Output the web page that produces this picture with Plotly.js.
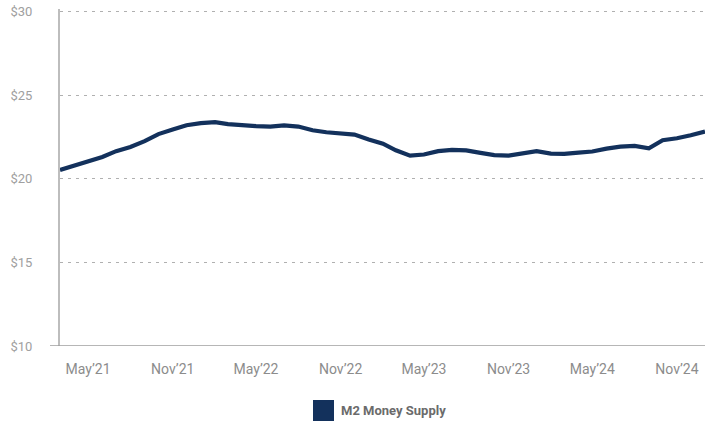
<!DOCTYPE html>
<html>
<head>
<meta charset="utf-8">
<script src="https://cdn.plot.ly/plotly-3.0.1.min.js"></script>
<style>
  html, body { margin: 0; padding: 0; background: #fff; }
  #chart { width: 724px; height: 423px; }
</style>
</head>
<body>
<div id="chart"></div>
<script>
// Monthly observations, Mar 2021 – Jan 2025
const months = [
  "2021-03-01","2021-04-01","2021-05-01","2021-06-01","2021-07-01","2021-08-01",
  "2021-09-01","2021-10-01","2021-11-01","2021-12-01","2022-01-01","2022-02-01",
  "2022-03-01","2022-04-01","2022-05-01","2022-06-01","2022-07-01","2022-08-01",
  "2022-09-01","2022-10-01","2022-11-01","2022-12-01","2023-01-01","2023-02-01",
  "2023-03-01","2023-04-01","2023-05-01","2023-06-01","2023-07-01","2023-08-01",
  "2023-09-01","2023-10-01","2023-11-01","2023-12-01","2024-01-01","2024-02-01",
  "2024-03-01","2024-04-01","2024-05-01","2024-06-01","2024-07-01","2024-08-01",
  "2024-09-01","2024-10-01","2024-11-01","2024-12-01","2025-01-01"
];
const m2Supply = [
  20.52, 20.79, 21.00, 21.30, 21.65, 21.90,
  22.25, 22.67, 22.94, 23.20, 23.33, 23.39,
  23.27, 23.19, 23.15, 23.12, 23.19, 23.12,
  22.90, 22.78, 22.73, 22.64, 22.35, 22.10,
  21.70, 21.38, 21.45, 21.65, 21.73, 21.70,
  21.55, 21.41, 21.38, 21.50, 21.65, 21.50,
  21.49, 21.56, 21.63, 21.80, 21.92, 21.97,
  21.82, 22.30, 22.42, 22.60, 22.82
];
const tickDates = ["2021-05-01","2021-11-01","2022-05-01","2022-11-01","2023-05-01","2023-11-01","2024-05-01","2024-11-01"];
const tickLabels = ["May\u201921","Nov\u201921","May\u201922","Nov\u201922","May\u201923","Nov\u201923","May\u201924","Nov\u201924"];
const yTicks = [10, 15, 20, 25, 30];
const seriesName = "M2 Money Supply";

const lineColor = "#13315C";
const fontFam = "Roboto, 'Liberation Sans', sans-serif";

const trace = {
  x: months,
  y: m2Supply,
  type: "scatter",
  mode: "lines",
  name: seriesName,
  line: { color: lineColor, width: 4.2, shape: "linear" },
  showlegend: false,
  hoverinfo: "x+y"
};

const mL = 60, mR = 19, mT = 9, mB = 77;
const plotW = 724 - mL - mR;
const plotH = 423 - mT - mB;
const plotBottom = 423 - mB;

const layout = {
  width: 724,
  height: 423,
  margin: { l: mL, r: mR, t: mT, b: mB },
  paper_bgcolor: "#ffffff",
  plot_bgcolor: "#ffffff",
  font: { family: fontFam, color: "#8c8c8c", size: 14 },
  xaxis: {
    type: "date",
    range: [months[0], months[months.length - 1]],
    tickmode: "array",
    tickvals: tickDates,
    ticktext: tickLabels,
    showgrid: false,
    zeroline: false,
    showline: false,
    ticks: "",
    ticklabelstandoff: 13,
    tickfont: { family: fontFam, size: 14, color: "#8c8c8c" }
  },
  yaxis: {
    range: [10, 30.15],
    tickmode: "array",
    tickvals: yTicks,
    ticktext: yTicks.map(v => "$" + v),
    showgrid: true,
    gridcolor: "#b0b0b0",
    gridwidth: 1,
    griddash: "3px,5px",
    zeroline: false,
    showline: true,
    linecolor: "#bdbdbd",
    linewidth: 2,
    ticks: "",
    ticklabelstandoff: 23,
    tickfont: { family: fontFam, size: 13, color: "#a0a0a0" }
  },
  shapes: [
    // x-axis baseline, extending slightly left of the y-axis
    { type: "line", xref: "paper", yref: "y", x0: -10 / plotW, x1: 1, y0: 10, y1: 10,
      line: { color: "#9e9e9e", width: 1.5 } },
    // legend swatch
    { type: "rect", xref: "paper", yref: "paper",
      x0: (313 - mL) / plotW, x1: (334 - mL) / plotW,
      y0: -(421 - plotBottom) / plotH, y1: -(400 - plotBottom) / plotH,
      fillcolor: lineColor, line: { width: 0 } }
  ],
  annotations: [
    { xref: "paper", yref: "paper", x: (339 - mL) / plotW, y: -(410.5 - plotBottom) / plotH,
      xanchor: "left", yanchor: "middle",
      text: "<b>" + seriesName + "</b>", showarrow: false,
      font: { family: fontFam, size: 13, color: "#6b6b6b" } }
  ],
  showlegend: false
};

Plotly.newPlot("chart", [trace], layout, { displayModeBar: false, staticPlot: true });
</script>
</body>
</html>
